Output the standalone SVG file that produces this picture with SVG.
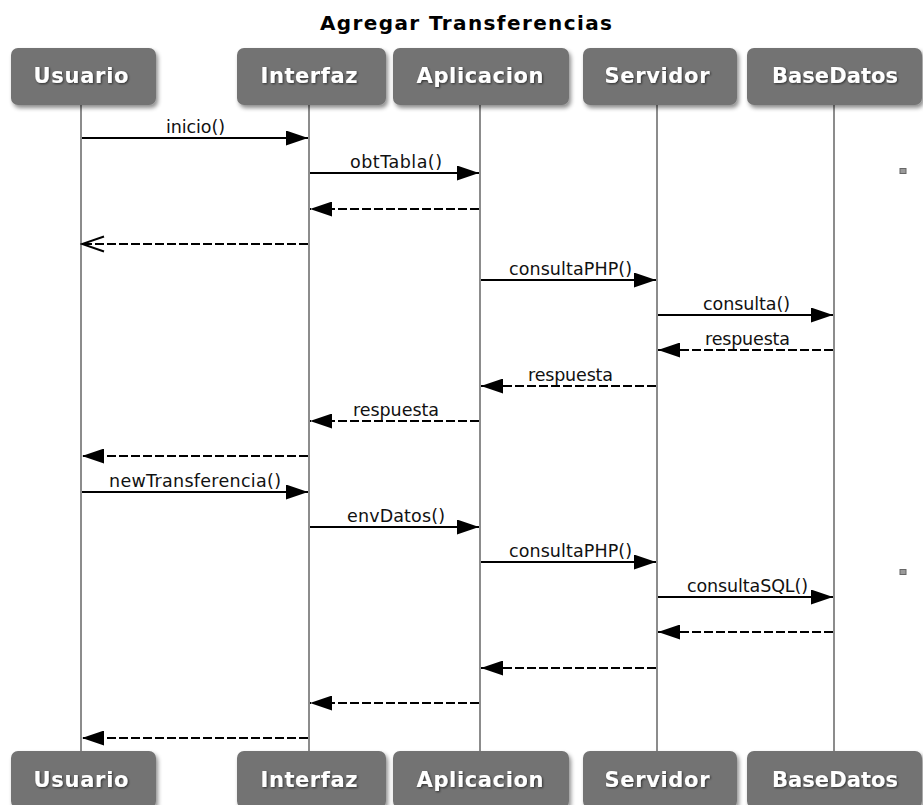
<svg xmlns="http://www.w3.org/2000/svg" width="923" height="805" viewBox="0 0 923 805">
  <style>
    .title { font-family: "DejaVu Sans", Verdana, sans-serif; font-weight: bold; font-size: 20px; fill: #000; }
    .box { fill: #737373; }
    .actor-label { font-family: "DejaVu Sans", Verdana, sans-serif; font-weight: bold; font-size: 21px; fill: #ffffff; text-anchor: middle; }
    .lifeline { stroke: #8c8c8c; stroke-width: 2; fill: none; }
    .msg { stroke: #000; stroke-width: 2; fill: none; }
    .call { marker-end: url(#solidHead); }
    .ret { stroke-dasharray: 9 3; marker-end: url(#solidHead); }
    .ret-open { stroke-dasharray: 9 3; marker-end: url(#openHead); }
    .msg-label { font-family: "DejaVu Sans", Verdana, sans-serif; font-size: 17.5px; fill: #111; text-anchor: middle; }
    .dot { fill: #9a9a9a; stroke: #666; stroke-width: 1; }
  </style>
  <defs>
    <filter id="boxShadow" x="-10%" y="-10%" width="125%" height="135%">
      <feDropShadow dx="2" dy="3" stdDeviation="2" flood-color="#000" flood-opacity="0.45"/>
    </filter>
    <filter id="textShadow" x="-10%" y="-30%" width="120%" height="160%">
      <feDropShadow dx="1" dy="1" stdDeviation="1.2" flood-color="#000" flood-opacity="0.6"/>
    </filter>
    <marker id="solidHead" markerUnits="userSpaceOnUse" markerWidth="23" markerHeight="15" refX="22" refY="7.5" orient="auto" viewBox="0 0 23 15">
      <path d="M0,0 L22,7.5 L0,15 Z" fill="#000" stroke="none"/>
    </marker>
    <marker id="openHead" markerUnits="userSpaceOnUse" markerWidth="25" markerHeight="19" refX="23" refY="9.5" orient="auto" viewBox="0 0 25 19">
      <path d="M1,2 L23,9.5 L1,17" fill="none" stroke="#000" stroke-width="2"/>
    </marker>
  </defs>

  <rect width="923" height="805" fill="#ffffff"/>

  <text class="title" x="320" y="30" textLength="292" lengthAdjust="spacing">Agregar Transferencias</text>

  <!-- lifelines -->
  <g id="lifelines">
    <line class="lifeline" x1="81" y1="104" x2="81" y2="752"/>
    <line class="lifeline" x1="309" y1="104" x2="309" y2="752"/>
    <line class="lifeline" x1="480" y1="104" x2="480" y2="752"/>
    <line class="lifeline" x1="657" y1="104" x2="657" y2="752"/>
    <line class="lifeline" x1="834" y1="104" x2="834" y2="752"/>
  </g>

  <!-- participants, top -->
  <g id="usuario-top">
    <rect class="box" x="11" y="48" width="145" height="57" rx="7" filter="url(#boxShadow)"/>
    <text class="actor-label" x="81" y="83" textLength="95" lengthAdjust="spacing" filter="url(#textShadow)">Usuario</text>
  </g>
  <g id="interfaz-top">
    <rect class="box" x="237" y="48" width="149" height="57" rx="7" filter="url(#boxShadow)"/>
    <text class="actor-label" x="309" y="83" textLength="97" lengthAdjust="spacing" filter="url(#textShadow)">Interfaz</text>
  </g>
  <g id="aplicacion-top">
    <rect class="box" x="393" y="48" width="176" height="57" rx="7" filter="url(#boxShadow)"/>
    <text class="actor-label" x="480" y="83" textLength="127" lengthAdjust="spacing" filter="url(#textShadow)">Aplicacion</text>
  </g>
  <g id="servidor-top">
    <rect class="box" x="583" y="48" width="154" height="57" rx="7" filter="url(#boxShadow)"/>
    <text class="actor-label" x="657" y="83" textLength="105" lengthAdjust="spacing" filter="url(#textShadow)">Servidor</text>
  </g>
  <g id="basedatos-top">
    <rect class="box" x="747" y="48" width="175" height="57" rx="7" filter="url(#boxShadow)"/>
    <text class="actor-label" x="835" y="83" textLength="126" lengthAdjust="spacing" filter="url(#textShadow)">BaseDatos</text>
  </g>

  <!-- participants, bottom -->
  <g id="usuario-bottom">
    <rect class="box" x="11" y="751" width="145" height="57" rx="7" filter="url(#boxShadow)"/>
    <text class="actor-label" x="81" y="787" textLength="95" lengthAdjust="spacing" filter="url(#textShadow)">Usuario</text>
  </g>
  <g id="interfaz-bottom">
    <rect class="box" x="237" y="751" width="149" height="57" rx="7" filter="url(#boxShadow)"/>
    <text class="actor-label" x="309" y="787" textLength="97" lengthAdjust="spacing" filter="url(#textShadow)">Interfaz</text>
  </g>
  <g id="aplicacion-bottom">
    <rect class="box" x="393" y="751" width="176" height="57" rx="7" filter="url(#boxShadow)"/>
    <text class="actor-label" x="480" y="787" textLength="127" lengthAdjust="spacing" filter="url(#textShadow)">Aplicacion</text>
  </g>
  <g id="servidor-bottom">
    <rect class="box" x="583" y="751" width="154" height="57" rx="7" filter="url(#boxShadow)"/>
    <text class="actor-label" x="657" y="787" textLength="105" lengthAdjust="spacing" filter="url(#textShadow)">Servidor</text>
  </g>
  <g id="basedatos-bottom">
    <rect class="box" x="747" y="751" width="175" height="57" rx="7" filter="url(#boxShadow)"/>
    <text class="actor-label" x="835" y="787" textLength="126" lengthAdjust="spacing" filter="url(#textShadow)">BaseDatos</text>
  </g>

  <!-- messages -->
  <g id="connectors">
    <line class="msg call" x1="82" y1="138" x2="308" y2="138"/>
    <line class="msg call" x1="310" y1="173" x2="479" y2="173"/>
    <line class="msg ret" x1="479" y1="209" x2="310" y2="209"/>
    <line class="msg ret-open" x1="308" y1="244" x2="82" y2="244"/>
    <line class="msg call" x1="481" y1="280" x2="656" y2="280"/>
    <line class="msg call" x1="658" y1="315" x2="833" y2="315"/>
    <line class="msg ret" x1="833" y1="350" x2="658" y2="350"/>
    <line class="msg ret" x1="656" y1="386" x2="481" y2="386"/>
    <line class="msg ret" x1="479" y1="421" x2="310" y2="421"/>
    <line class="msg ret" x1="308" y1="456" x2="82" y2="456"/>
    <line class="msg call" x1="82" y1="492" x2="308" y2="492"/>
    <line class="msg call" x1="310" y1="527" x2="479" y2="527"/>
    <line class="msg call" x1="481" y1="562" x2="656" y2="562"/>
    <line class="msg call" x1="658" y1="597" x2="833" y2="597"/>
    <line class="msg ret" x1="833" y1="632" x2="658" y2="632"/>
    <line class="msg ret" x1="656" y1="668" x2="481" y2="668"/>
    <line class="msg ret" x1="479" y1="703" x2="310" y2="703"/>
    <line class="msg ret" x1="308" y1="738" x2="82" y2="738"/>
  </g>

  <g id="message-labels">
    <text class="msg-label" x="195.5" y="133" textLength="59" lengthAdjust="spacing">inicio()</text>
    <text class="msg-label" x="396" y="168" textLength="92" lengthAdjust="spacing">obtTabla()</text>
    <text class="msg-label" x="570.5" y="275" textLength="123" lengthAdjust="spacing">consultaPHP()</text>
    <text class="msg-label" x="746.5" y="310" textLength="87" lengthAdjust="spacing">consulta()</text>
    <text class="msg-label" x="747.5" y="345" textLength="85" lengthAdjust="spacing">respuesta</text>
    <text class="msg-label" x="570.5" y="381" textLength="85" lengthAdjust="spacing">respuesta</text>
    <text class="msg-label" x="396" y="416" textLength="86" lengthAdjust="spacing">respuesta</text>
    <text class="msg-label" x="195" y="487" textLength="172" lengthAdjust="spacing">newTransferencia()</text>
    <text class="msg-label" x="396" y="522" textLength="98" lengthAdjust="spacing">envDatos()</text>
    <text class="msg-label" x="570.5" y="557" textLength="123" lengthAdjust="spacing">consultaPHP()</text>
    <text class="msg-label" x="747.5" y="592" textLength="121" lengthAdjust="spacing">consultaSQL()</text>
  </g>

  <!-- small markers at the right margin -->
  <rect class="dot" x="900" y="168.5" width="6" height="5"/>
  <rect class="dot" x="900" y="569.5" width="6" height="5"/>
</svg>
